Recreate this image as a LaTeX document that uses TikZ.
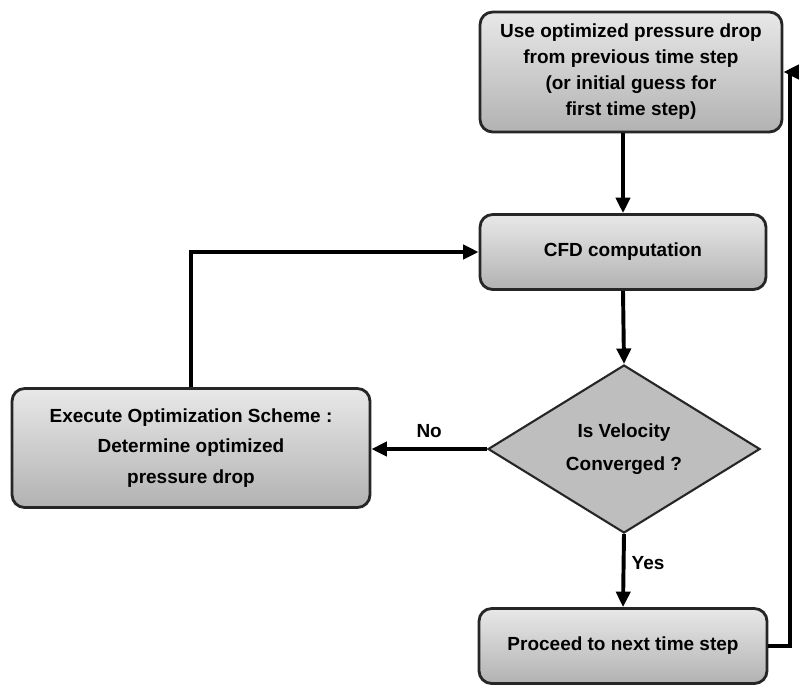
\documentclass[tikz,border=0pt]{standalone}
\usepackage{fontspec}
\setmainfont{Liberation Sans}
\usetikzlibrary{shapes.geometric, arrows.meta, positioning}
\definecolor{boxtop}{RGB}{232, 232, 232}
\definecolor{boxbot}{RGB}{178, 178, 178}
\definecolor{dmdfill}{RGB}{190, 190, 190}

\begin{document}
\begin{tikzpicture}[x=0.025cm, y=-0.025cm,
    stepbox/.style={draw=black!85, line width=2pt, rounded corners=9pt, top color=boxtop, bottom color=boxbot,
        align=center, font=\bfseries\fontsize{13.5}{18.5}\selectfont, inner sep=0pt},
    decision/.style={diamond, draw=black!85, line width=1.5pt, fill=dmdfill, aspect=1.62,
        align=center, font=\bfseries\fontsize{13.5}{24}\selectfont, inner sep=0pt},
    flow/.style={line width=2.8pt, -{Triangle[length=11pt, width=10pt]}}]
    \useasboundingbox (0,0) rectangle (800,693);
    \node[stepbox, minimum width=302*0.025cm, minimum height=120*0.025cm] (guess) at (631,72)
        {Use optimized pressure drop\\from previous time step\\(or initial guess for\\first time step)};
    \node[stepbox, minimum width=286*0.025cm, minimum height=75*0.025cm] (cfd) at (623,252) {CFD computation};
    \node[decision, minimum width=272*0.025cm, minimum height=168*0.025cm] (conv) at (624,449) {Is Velocity\\Converged ?};
    \node[stepbox, minimum width=358*0.025cm, minimum height=119*0.025cm, font=\bfseries\fontsize{13.5}{21.5}\selectfont] (optim) at (191,448)
        {Execute Optimization Scheme :\\Determine optimized\\pressure drop};
    \node[stepbox, minimum width=288*0.025cm, minimum height=75*0.025cm] (next) at (623,646) {Proceed to next time step};
    \coordinate (back) at (790,0);
    % connectors
    \draw[flow] (guess.south -| cfd) -- (cfd.north);
    \draw[flow] (cfd.south) -- (conv.north);
    \draw[flow] (conv.west) -- node[above=3pt, font=\bfseries\fontsize{13.5}{16}\selectfont] {No} (optim.east |- conv.west);
    \draw[flow] (optim.north) |- (cfd.west);
    \draw[flow] (conv.south) -- node[right=1pt, pos=0.4, font=\bfseries\fontsize{13.5}{16}\selectfont] {Yes} (next.north);
    \draw[flow] (next.east) -| (back |- guess.east) -- (guess.east);
\end{tikzpicture}
\end{document}
